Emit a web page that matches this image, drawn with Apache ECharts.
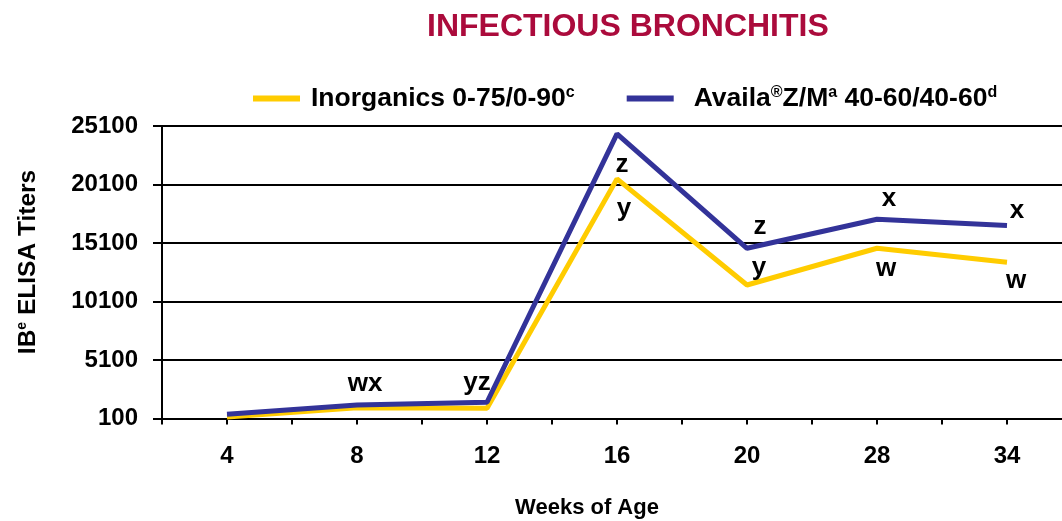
<!DOCTYPE html>
<html>
<head>
<meta charset="utf-8">
<script src="https://cdn.jsdelivr.net/npm/echarts@6/dist/echarts.min.js"></script>
<style>
html,body{margin:0;padding:0;background:#fff;}
#chart{width:1062px;height:521px;}
</style>
</head>
<body>
<div id="chart"></div>
<script>
// ---- data ----
const weeks = ['4', '8', '12', '16', '20', '28', '34'];
const seriesNames = ['Inorganics 0-75/0-90', 'Availa®Z/M 40-60/40-60'];
const inorganics = [230, 1020, 970, 20580, 11510, 14650, 13460];
const availa = [460, 1250, 1490, 24430, 14650, 17130, 16590];
const inorgLetters = ['', '', '', 'y', 'y', 'w', 'w'];
const availaLetters = ['', 'wx', 'yz', 'z', 'z', 'x', 'x'];
const yTicks = [100, 5100, 10100, 15100, 20100, 25100];
const titleText = 'INFECTIOUS BRONCHITIS';
const xName = 'Weeks of Age';

// ---- layout / styling ----
const FONT = '"Liberation Sans", Arial, sans-serif';
const inorgLabelPos = [null, null, null, ['bottom', [7, 12]], ['top', [12, 1]], ['bottom', [9, 3]], ['bottom', [9, 1]]];
const availaLabelPos = [null, ['top', [8, -3]], ['top', [-10, -1]], ['bottom', [5, 13]], ['top', [13, -3]], ['top', [12, -2]], ['top', [10, 3]]];

function buildData(values, letters, pos) {
  return values.map((v, i) => {
    const item = { value: v };
    if (letters[i] && pos[i]) {
      item.label = {
        show: true,
        formatter: letters[i],
        position: pos[i][0],
        offset: pos[i][1],
        distance: 5,
        color: '#000',
        fontFamily: FONT,
        fontWeight: 'bold',
        fontSize: 26
      };
    }
    return item;
  });
}

const legendRich = {
  sup: { fontSize: 16, fontWeight: 'bold', fontFamily: FONT, color: '#000', verticalAlign: 'top', lineHeight: 14, padding: [0, 0, 8, 0] }
};

const chart = echarts.init(document.getElementById('chart'), null, { renderer: 'canvas' });
chart.setOption({
  animation: false,
  backgroundColor: '#fff',
  title: {
    text: titleText,
    left: 427,
    top: 11,
    padding: 0,
    textStyle: { color: '#AB0B3C', fontFamily: FONT, fontWeight: 'bold', fontSize: 32 }
  },
  legend: {
    left: 253,
    top: 85,
    padding: 0,
    itemWidth: 47,
    itemHeight: 6,
    itemGap: 52,
    icon: 'rect',
    data: [
      { name: seriesNames[0] },
      { name: seriesNames[1], textStyle: { padding: [0, 0, 0, 15] } }
    ],
    formatter: function (name) {
      if (name === seriesNames[0]) return 'Inorganics 0-75/0-90{sup|c}';
      return 'Availa{sup|®}Z/M{sup|a} 40-60/40-60{sup|d}';
    },
    textStyle: { color: '#000', fontFamily: FONT, fontWeight: 'bold', fontSize: 26.5, padding: [0, 0, 0, 6], rich: legendRich }
  },
  grid: { left: 162, width: 910, top: 126, height: 292.5, containLabel: false, outerBoundsMode: 'none' },
  xAxis: [{
    type: 'category',
    data: weeks,
    boundaryGap: true,
    axisLine: { show: true, lineStyle: { color: '#000', width: 2 } },
    axisTick: { show: true, interval: 0, length: 6, alignWithLabel: false, lineStyle: { color: '#000', width: 2 } },
    axisLabel: { interval: 0, margin: 26, color: '#000', fontFamily: FONT, fontWeight: 'bold', fontSize: 24 },
    splitLine: { show: false }
  }, {
    type: 'category',
    data: weeks,
    position: 'bottom',
    boundaryGap: true,
    axisLine: { show: false },
    axisTick: { show: true, interval: 0, length: 6, alignWithLabel: true, lineStyle: { color: '#000', width: 2 } },
    axisLabel: { show: false },
    splitLine: { show: false }
  }],
  yAxis: {
    type: 'value',
    min: yTicks[0],
    max: yTicks[yTicks.length - 1],
    interval: yTicks[1] - yTicks[0],
    axisLine: { show: true, lineStyle: { color: '#000', width: 2 } },
    axisTick: { show: true, length: 9, lineStyle: { color: '#000', width: 2 } },
    axisLabel: { margin: 24, color: '#000', fontFamily: FONT, fontWeight: 'bold', fontSize: 24, formatter: v => String(v) },
    splitLine: { show: true, lineStyle: { color: '#000', width: 2 } }
  },
  graphic: [{
    type: 'text',
    x: 28, y: 262,
    rotation: Math.PI / 2,
    style: {
      text: 'IB{sup|e} ELISA Titers',
      fill: '#000',
      font: 'bold 24.5px ' + FONT,
      align: 'center',
      verticalAlign: 'middle',
      rich: { sup: { fontSize: 14, fontWeight: 'bold', fontFamily: FONT, fill: '#000', verticalAlign: 'top', lineHeight: 13 } }
    }
  }, {
    type: 'text',
    x: 587, y: 508,
    style: {
      text: xName,
      fill: '#000',
      font: 'bold 22px ' + FONT,
      align: 'center',
      verticalAlign: 'middle'
    }
  }],
  series: [{
    name: seriesNames[0],
    type: 'line',
    data: buildData(inorganics, inorgLetters, inorgLabelPos),
    showSymbol: true,
    symbol: 'circle',
    symbolSize: 0,
    color: '#FFCC00',
    lineStyle: { color: '#FFCC00', width: 5 },
    z: 3
  }, {
    name: seriesNames[1],
    type: 'line',
    data: buildData(availa, availaLetters, availaLabelPos),
    showSymbol: true,
    symbol: 'circle',
    symbolSize: 0,
    color: '#333399',
    lineStyle: { color: '#333399', width: 5 },
    z: 4
  }]
});
</script>
</body>
</html>
